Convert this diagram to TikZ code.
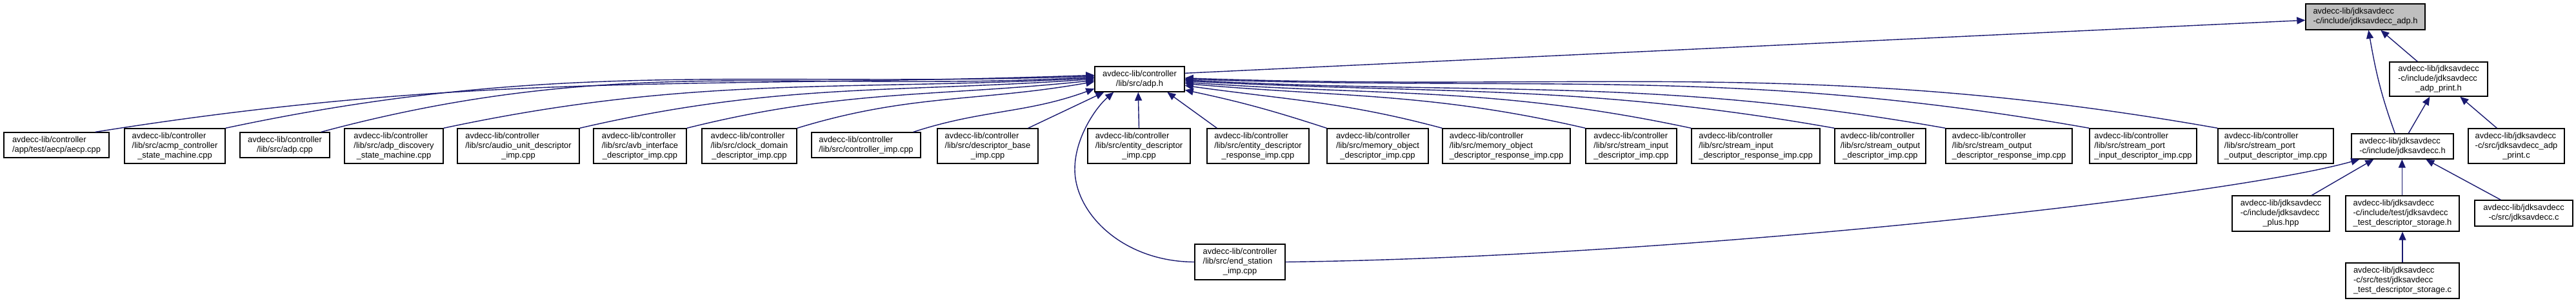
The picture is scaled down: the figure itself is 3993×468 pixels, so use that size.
\documentclass[tikz,border=0pt]{standalone}
\usepackage{fontspec}
\setmainfont{Liberation Sans}
\usetikzlibrary{arrows.meta,calc}
\definecolor{edgeblue}{RGB}{25,25,112}
\definecolor{rootgray}{RGB}{191,191,191}
\newcommand{\lns}[2]{\begin{tabular}{@{}l@{}}#1\\\multicolumn{1}{@{}c@{}}{#2}\end{tabular}}
\newcommand{\gnode}[7][]{\node[box,#1,minimum width={(#5-#3)*0.5pt},minimum height={(#6-#4)*0.5pt}] (#2) at ({(#3+#5)/2},{(#4+#6)/2}) {#7};}
\begin{document}
\begin{tikzpicture}[x=0.5pt,y=-0.5pt,
  box/.style={draw=black,line width=0.7pt,fill=white,inner sep=0pt,font=\fontsize{6.45pt}{7.5pt}\selectfont},
  root/.style={fill=rootgray},
  dep/.style={draw=edgeblue,line width=0.7pt,-{Triangle[length=6.5pt,width=5.5pt]}}]
\useasboundingbox (0,0) rectangle (3993,468);
% top rank
\gnode[root]{top}{3574}{6}{3759}{46}{\lns{avdecc-lib/jdksavdecc}{-c/include/jdksavdecc\_adp.h}}
\gnode{adph}{1697}{103}{1836}{142}{\lns{avdecc-lib/controller}{/lib/src/adp.h}}
\gnode{aph}{3704}{96}{3856}{149}{\lns{avdecc-lib/jdksavdecc\\-c/include/jdksavdecc}{\_adp\_print.h}}
% second rank
\gnode{aecp}{6}{205}{169}{244}{\lns{avdecc-lib/controller}{/app/test/aecp/aecp.cpp}}
\gnode{acmp}{193}{199}{349}{253}{\lns{avdecc-lib/controller\\/lib/src/acmp\_controller}{\_state\_machine.cpp}}
\gnode{adpcpp}{372}{205}{511}{244}{\lns{avdecc-lib/controller}{/lib/src/adp.cpp}}
\gnode{disc}{534}{199}{687}{253}{\lns{avdecc-lib/controller\\/lib/src/adp\_discovery}{\_state\_machine.cpp}}
\gnode{audio}{709}{199}{898}{253}{\lns{avdecc-lib/controller\\/lib/src/audio\_unit\_descriptor}{\_imp.cpp}}
\gnode{avb}{920}{199}{1064}{253}{\lns{avdecc-lib/controller\\/lib/src/avb\_interface}{\_descriptor\_imp.cpp}}
\gnode{clock}{1088}{199}{1235}{253}{\lns{avdecc-lib/controller\\/lib/src/clock\_domain}{\_descriptor\_imp.cpp}}
\gnode{ctrl}{1258}{205}{1427}{244}{\lns{avdecc-lib/controller}{/lib/src/controller\_imp.cpp}}
\gnode{dbase}{1453}{199}{1609}{253}{\lns{avdecc-lib/controller\\/lib/src/descriptor\_base}{\_imp.cpp}}
\gnode{entd}{1686}{199}{1845}{253}{\lns{avdecc-lib/controller\\/lib/src/entity\_descriptor}{\_imp.cpp}}
\gnode{entr}{1871}{199}{2029}{253}{\lns{avdecc-lib/controller\\/lib/src/entity\_descriptor}{\_response\_imp.cpp}}
\gnode{memd}{2057}{199}{2214}{253}{\lns{avdecc-lib/controller\\/lib/src/memory\_object}{\_descriptor\_imp.cpp}}
\gnode{memr}{2236}{199}{2434}{253}{\lns{avdecc-lib/controller\\/lib/src/memory\_object}{\_descriptor\_response\_imp.cpp}}
\gnode{sid}{2458}{199}{2599}{253}{\lns{avdecc-lib/controller\\/lib/src/stream\_input}{\_descriptor\_imp.cpp}}
\gnode{sir}{2622}{199}{2821}{253}{\lns{avdecc-lib/controller\\/lib/src/stream\_input}{\_descriptor\_response\_imp.cpp}}
\gnode{sod}{2844}{199}{2985}{253}{\lns{avdecc-lib/controller\\/lib/src/stream\_output}{\_descriptor\_imp.cpp}}
\gnode{sor}{3016}{199}{3212}{253}{\lns{avdecc-lib/controller\\/lib/src/stream\_output}{\_descriptor\_response\_imp.cpp}}
\gnode{spi}{3239}{199}{3405}{253}{\lns{avdecc-lib/controller\\/lib/src/stream\_port}{\_input\_descriptor\_imp.cpp}}
\gnode{spo}{3438}{199}{3617}{253}{\lns{avdecc-lib/controller\\/lib/src/stream\_port}{\_output\_descriptor\_imp.cpp}}
\gnode{jh}{3645}{207}{3803}{246}{\lns{avdecc-lib/jdksavdecc}{-c/include/jdksavdecc.h}}
\gnode{apc}{3826}{199}{3975}{253}{\lns{avdecc-lib/jdksavdecc\\-c/src/jdksavdecc\_adp}{\_print.c}}
% lower ranks
\gnode{endst}{1852}{378}{1992}{433}{\lns{avdecc-lib/controller\\/lib/src/end\_station}{\_imp.cpp}}
\gnode{plus}{3460}{303}{3611}{358}{\lns{avdecc-lib/jdksavdecc\\-c/include/jdksavdecc}{\_plus.hpp}}
\gnode{tsh}{3636}{303}{3812}{358}{\lns{avdecc-lib/jdksavdecc\\-c/include/test/jdksavdecc}{\_test\_descriptor\_storage.h}}
\gnode{jc}{3836}{310}{3988}{350}{\lns{avdecc-lib/jdksavdecc}{-c/src/jdksavdecc.c}}
\gnode{tsc}{3636}{407}{3812}{462}{\lns{avdecc-lib/jdksavdecc\\-c/src/test/jdksavdecc}{\_test\_descriptor\_storage.c}}
% edges into adp.h (left side)
\draw[dep] ($(aecp.north east)+(-22,0)$) to[out=9,in=182] ($(adph.north west)+(0,14)$);
\draw[dep] (acmp.north east) to[out=12,in=182] ($(adph.north west)+(0,15.5)$);
\draw[dep] ($(adpcpp.north east)+(-14,0)$) to[out=15,in=183] ($(adph.north west)+(0,17)$);
\draw[dep] (disc.north east) to[out=12,in=183] ($(adph.north west)+(0,18.5)$);
\draw[dep] (audio.north east) to[out=13,in=184] ($(adph.north west)+(0,20)$);
\draw[dep] (avb.north east) to[out=14,in=186] ($(adph.north west)+(0,22)$);
\draw[dep] (clock.north east) to[out=17,in=190] ($(adph.north west)+(0,24)$);
\draw[dep] ($(ctrl.north east)+(-12,0)$) to[out=18,in=200] ($(adph.north west)+(0,35)$);
\draw[dep] ($(dbase.north east)+(-16,0)$) -- ($(adph.south west)+(15,0)$);
\draw[dep] (entd.north) -- ($(adph.south west)+(68,0)$);
\draw[dep] ($(entr.north west)+(16,0)$) -- ($(adph.south west)+(113,0)$);
% edges into adp.h (right side)
\draw[dep] (memd.north west) to[out=162,in=-12] ($(adph.north east)+(0,37)$);
\draw[dep] (memr.north west) to[out=165,in=-8] ($(adph.north east)+(0,30)$);
\draw[dep] (sid.north west) to[out=167,in=-5] ($(adph.north east)+(0,27)$);
\draw[dep] (sir.north west) to[out=168,in=-4] ($(adph.north east)+(0,25)$);
\draw[dep] (sod.north west) to[out=170,in=-3] ($(adph.north east)+(0,23)$);
\draw[dep] (sor.north west) to[out=170,in=-3] ($(adph.north east)+(0,21.5)$);
\draw[dep] (spi.north west) to[out=170,in=-2] ($(adph.north east)+(0,20)$);
\draw[dep] (spo.north west) to[out=170,in=-2] ($(adph.north east)+(0,18.5)$);
% end_station
\draw[dep] (endst.west) .. controls (1740,405) and (1666,330) .. (1666,262)
  .. controls (1666,212) and (1700,165) .. ($(adph.south west)+(30,0)$);
\draw[dep] (endst.east) .. controls (2600,398) and (3450,305) .. ($(jh.south west)+(13,0)$);
% right cluster
\draw[dep] ($(adph.north east)+(0,11)$) -- ($(top.north west)+(0,26)$);
\draw[dep] ($(jh.north west)+(68,0)$) to[out=110,in=-80] ($(top.south west)+(98,0)$);
\draw[dep] ($(aph.north west)+(44,0)$) -- ($(top.south west)+(117,0)$);
\draw[dep] ($(jh.north west)+(89,0)$) -- ($(aph.south west)+(63,0)$);
\draw[dep] ($(apc.north west)+(45,0)$) -- ($(aph.south west)+(110,0)$);
\draw[dep] ($(plus.north west)+(124,0)$) -- ($(jh.south west)+(35,0)$);
\draw[dep] ($(tsh.north west)+(88,0)$) -- ($(jh.south west)+(79,0)$);
\draw[dep] ($(jc.north west)+(41,0)$) -- ($(jh.south west)+(116,0)$);
\draw[dep] (tsc.north) -- (tsh.south);
\end{tikzpicture}
\end{document}
